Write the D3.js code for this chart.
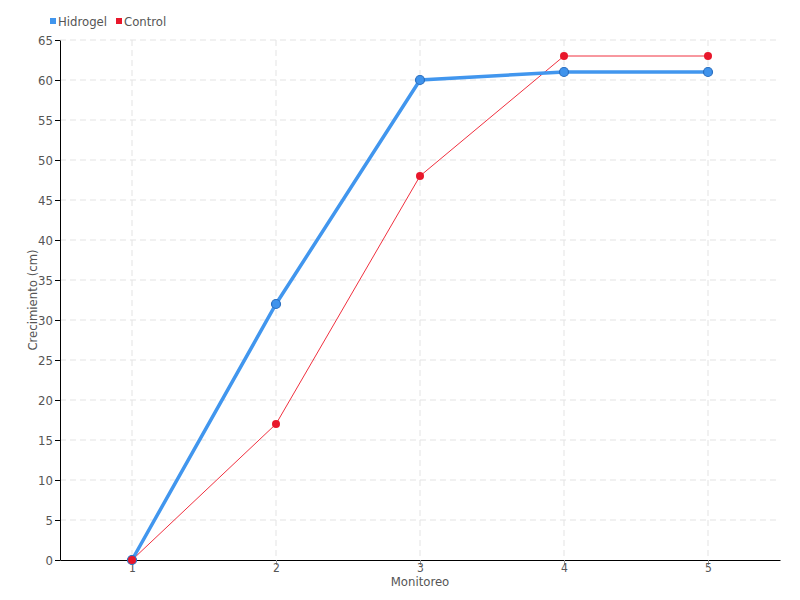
<!DOCTYPE html>
<html>
<head>
<meta charset="utf-8">
<script src="https://cdnjs.cloudflare.com/ajax/libs/d3/7.8.5/d3.min.js"></script>
<style>
  body { margin: 0; background: #fff; }
  text { font-family: "DejaVu Sans Condensed", "DejaVu Sans", sans-serif; font-stretch: condensed; }
</style>
</head>
<body>
<svg id="chart" width="800" height="600"></svg>
<script>
// data
var monitoreo = ["1", "2", "3", "4", "5"];
var hidrogel = [0, 32, 60, 61, 61];
var control = [0, 17, 48, 63, 63];
var yTicks = [0, 5, 10, 15, 20, 25, 30, 35, 40, 45, 50, 55, 60, 65];

var svg = d3.select("#chart"),
    margin = { top: 40, right: 20, bottom: 40, left: 60 },
    width = 800 - margin.left - margin.right,
    height = 600 - margin.top - margin.bottom;

var g = svg.append("g").attr("transform", "translate(" + margin.left + "," + margin.top + ")");

var x = d3.scalePoint().domain(monitoreo).range([0, width]).padding(0.5);
var y = d3.scaleLinear().domain([0, 65]).range([height, 0]);

// grid
g.append("g")
    .selectAll("line")
    .data(yTicks.slice(1))
    .enter().append("line")
    .attr("x1", 0).attr("x2", width)
    .attr("y1", function(d) { return y(d); })
    .attr("y2", function(d) { return y(d); })
    .attr("stroke", "#e3e3e3")
    .attr("stroke-dasharray", "6,4");

g.append("g")
    .selectAll("line")
    .data(monitoreo)
    .enter().append("line")
    .attr("x1", function(d) { return x(d); })
    .attr("x2", function(d) { return x(d); })
    .attr("y1", 0).attr("y2", height)
    .attr("stroke", "#e3e3e3")
    .attr("stroke-dasharray", "6,4");

// axes
var yAxis = g.append("g")
    .call(d3.axisLeft(y).tickValues(yTicks).tickSize(5).tickSizeOuter(0).tickPadding(2));
yAxis.select(".domain").attr("stroke", "#000");
yAxis.selectAll(".tick line").attr("stroke", "#000");
yAxis.selectAll(".tick text").attr("fill", "#555").attr("font-size", 13);

var xAxis = g.append("g")
    .attr("transform", "translate(0," + height + ")")
    .call(d3.axisBottom(x).tickSize(5).tickSizeOuter(0).tickPadding(-2));
xAxis.select(".domain").attr("stroke", "#000");
xAxis.selectAll(".tick line").attr("stroke", "#999");
xAxis.selectAll(".tick text").attr("fill", "#555").attr("font-size", 12);

// axis titles
svg.append("text")
    .attr("x", margin.left + width / 2)
    .attr("y", 586)
    .attr("text-anchor", "middle")
    .attr("fill", "#555")
    .attr("font-size", 13)
    .text("Monitoreo");

svg.append("text")
    .attr("transform", "translate(37," + (margin.top + height / 2) + ") rotate(-90)")
    .attr("text-anchor", "middle")
    .attr("fill", "#555")
    .attr("font-size", 13)
    .text("Crecimiento (cm)");

// lines
var line = d3.line()
    .x(function(d, i) { return x(monitoreo[i]); })
    .y(function(d) { return y(d); });

g.append("path")
    .datum(control)
    .attr("fill", "none")
    .attr("stroke", "#f0303f")
    .attr("stroke-width", 1)
    .attr("d", line);

g.append("path")
    .datum(hidrogel)
    .attr("fill", "none")
    .attr("stroke", "#4196ee")
    .attr("stroke-width", 3.5)
    .attr("d", line);

g.selectAll(".pt-h")
    .data(hidrogel)
    .enter().append("circle")
    .attr("cx", function(d, i) { return x(monitoreo[i]); })
    .attr("cy", function(d) { return y(d); })
    .attr("r", 4.5)
    .attr("fill", "#3f93ec")
    .attr("stroke", "#2a6fc0")
    .attr("stroke-width", 1.2);

g.selectAll(".pt-c")
    .data(control)
    .enter().append("circle")
    .attr("cx", function(d, i) { return x(monitoreo[i]); })
    .attr("cy", function(d) { return y(d); })
    .attr("r", 4)
    .attr("fill", "#e8172b");

// legend
var legend = [
    { name: "Hidrogel", color: "#4196ee", x: 50 },
    { name: "Control", color: "#e8172b", x: 116 }
];
var lg = svg.append("g").selectAll("g").data(legend).enter().append("g");
lg.append("rect")
    .attr("x", function(d) { return d.x; })
    .attr("y", 18)
    .attr("width", 6).attr("height", 6)
    .attr("fill", function(d) { return d.color; });
lg.append("text")
    .attr("x", function(d) { return d.x + 8; })
    .attr("y", 26)
    .attr("fill", "#555")
    .attr("font-size", 13)
    .text(function(d) { return d.name; });
</script>
</body>
</html>
